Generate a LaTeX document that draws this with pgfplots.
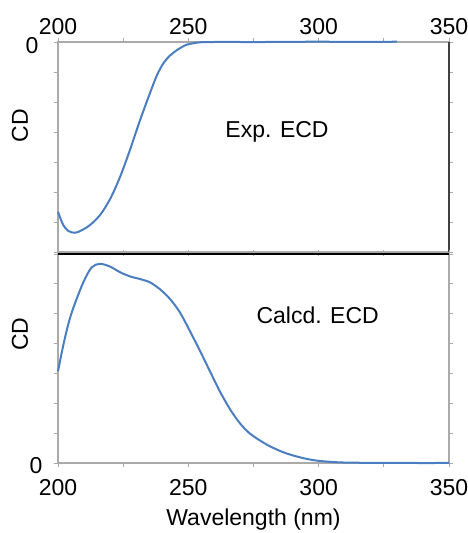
\documentclass[border=0pt]{standalone}
\usepackage{pgfplots}
\pgfplotsset{compat=1.18}
\usepackage{fontspec}
\setmainfont{Liberation Sans}
\definecolor{curve}{RGB}{74,126,193}
\definecolor{axgray}{RGB}{170,170,170}
\begin{document}
\begin{tikzpicture}
\pgfplotsset{
  every axis/.append style={
    scale only axis, width=391pt, height=210pt,
    xmin=200, xmax=350,
    xtick={200,225,...,350},
    xticklabels={200,,250,,300,,350},
    /pgf/number format/assume math mode=true,
    ticklabel style={font=\fontsize{23}{23}\selectfont},
    label style={font=\fontsize{23}{23}\selectfont},
    axis line style={draw=axgray, line width=1.2pt},
    tick style={draw=axgray, line width=0.8pt},
    major tick length=4pt,
    tick align=outside,
    clip=false,
  }
}
\begin{axis}[name=top,
  xticklabel pos=top,
  ymin=-7, ymax=0,
  ytick={-7,-6,...,0},
  yticklabels={,,,,,,,0},
  yticklabel style={yshift=-4pt, xshift=-12pt},
  ylabel={CD},
  ylabel style={at={(axis description cs:-0.097,0.6)}, anchor=center},
]
\addplot[curve, line width=2pt, smooth] coordinates {
(200,-5.66) (202,-6.1) (204,-6.3) (206.5,-6.36) (209,-6.28) (212.3,-6.1)
(216.1,-5.77) (219.9,-5.25) (223.8,-4.5) (227.6,-3.6) (231.5,-2.6)
(235.3,-1.7) (238,-1.1) (240.5,-0.7) (243,-0.45) (246,-0.25)
(249.4,-0.09) (254.5,-0.01) (260,0) (280,0) (300,0.01) (315,0) (330,0.01)
};
\node[anchor=west, font=\fontsize{23}{23}\selectfont] at (axis cs:262.9,-3.0) {Exp. ECD};
\draw[black!75, line width=1.2pt] (rel axis cs:1,0) -- (rel axis cs:1,1);
\end{axis}
\begin{axis}[name=bot,
  at={(top.south west)}, yshift=-2pt, anchor=north west,
  height=209pt,
  ymin=0, ymax=7,
  ytick={0,1,...,7},
  yticklabels={0,,,,,,,},
  yticklabel style={yshift=-3pt, xshift=-8pt},
  xticklabel style={yshift=-9pt},
  xlabel={Wavelength (nm)},
  xlabel style={yshift=-6pt},
  ylabel={CD},
  ylabel style={at={(axis description cs:-0.097,0.617)}, anchor=center},
]
\addplot[curve, line width=2pt, smooth] coordinates {
(200,3.07) (201.8,3.85) (203.8,4.6) (205.9,5.2) (209.7,6.05) (212.9,6.55) (216.1,6.67)
(219.9,6.58) (223.8,6.39) (227.6,6.25) (231.5,6.16) (235.3,6.05)
(239.1,5.82) (243,5.49) (246.8,5.04) (250.6,4.42) (254.5,3.75)
(258.3,3.07) (262.1,2.4) (266,1.8) (269.8,1.33) (273.7,0.98) (280,0.62)
(286.4,0.36) (292.8,0.19) (299.2,0.08) (308.2,0.02) (320,0.005) (335,0) (350,0)
};
\node[anchor=west, font=\fontsize{23}{23}\selectfont] at (axis cs:274.8,4.95) {Calcd. ECD};
\draw[black, line width=1.2pt] (rel axis cs:0,1) -- (rel axis cs:1,1);
\end{axis}
\pgfresetboundingbox
\path ([shift={(-58pt,42pt)}]top.north west) rectangle ([shift={(410pt,-491pt)}]top.north west);
\end{tikzpicture}
\end{document}
